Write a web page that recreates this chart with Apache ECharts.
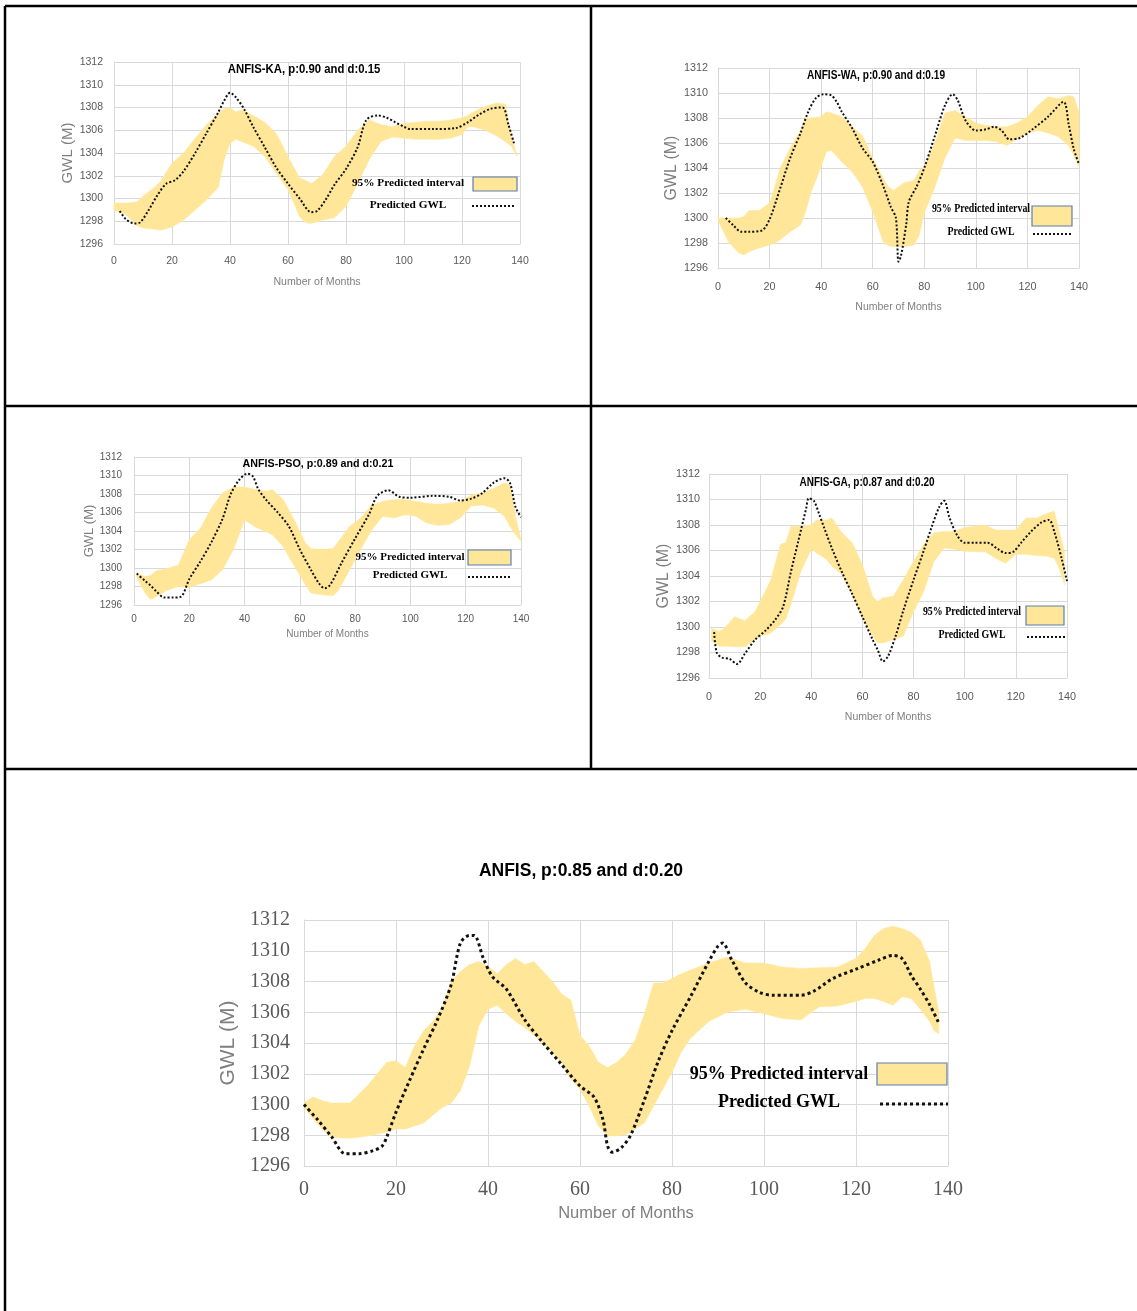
<!DOCTYPE html>
<html>
<head>
<meta charset="utf-8">
<script src="https://cdn.jsdelivr.net/npm/echarts@6/dist/echarts.min.js"></script>
<style>
  html, body { margin: 0; padding: 0; background: #fff; }
  #chart { width: 1137px; height: 1311px; }
</style>
</head>
<body>
<div id="chart"></div>
<script>
// GWL 95% prediction interval panels — ANFIS-KA / WA / PSO / GA / ANFIS

const X_TICKS = [0, 20, 40, 60, 80, 100, 120, 140];
const Y_TICKS = [1296, 1298, 1300, 1302, 1304, 1306, 1308, 1310, 1312];

// ANFIS-KA
const KA_MONTHS = [0, 4, 8, 10, 14, 16, 20, 24, 28, 32, 36, 38, 40, 42, 44, 48, 52, 56, 60, 64, 66, 68, 72, 76, 80, 84, 88, 92, 96, 100, 104, 108, 112, 116, 120, 122, 124, 128, 132, 135, 137, 139];
const KA_LOWER = [1299.0, 1298.6, 1297.6, 1297.4, 1297.3, 1297.2, 1297.5, 1298.1, 1299.0, 1299.9, 1301.0, 1303.4, 1304.85, 1305.2, 1305.0, 1304.6, 1303.7, 1302.2, 1300.8, 1298.4, 1297.9, 1297.8, 1298.1, 1298.3, 1299.3, 1301.3, 1303.4, 1305.0, 1305.4, 1305.3, 1305.2, 1305.2, 1305.2, 1305.3, 1305.6, 1306.3, 1306.3, 1306.0, 1305.5, 1305.0, 1304.6, 1303.7];
const KA_UPPER = [1299.6, 1299.6, 1299.7, 1300.2, 1301.0, 1301.5, 1303.1, 1304.0, 1305.3, 1306.5, 1307.5, 1307.9, 1308.0, 1307.6, 1307.8, 1307.3, 1306.7, 1305.7, 1303.7, 1301.8, 1301.6, 1301.3, 1302.1, 1303.7, 1304.6, 1306.0, 1306.9, 1306.5, 1306.3, 1306.6, 1306.7, 1306.8, 1306.8, 1306.9, 1307.1, 1307.3, 1307.6, 1308.1, 1308.4, 1308.3, 1305.4, 1303.8];
const KA_LINE_X = [2, 4, 7, 9, 12, 15, 18, 21, 24, 28, 32, 36, 38, 40, 42, 45, 48, 52, 56, 60, 64, 68, 70, 73, 76, 80, 84, 87, 91, 94, 97, 100, 102, 110, 118, 122, 126, 130, 134, 136, 138];
const KA_LINE_Y = [1298.9, 1298.2, 1297.8, 1297.9, 1299.0, 1300.3, 1301.3, 1301.6, 1302.4, 1304.0, 1305.8, 1307.6, 1308.6, 1309.3, 1308.9, 1307.8, 1306.3, 1304.5, 1302.7, 1301.3, 1300.0, 1298.8, 1298.9, 1299.9, 1301.2, 1302.6, 1304.5, 1306.9, 1307.3, 1307.1, 1306.7, 1306.3, 1306.1, 1306.1, 1306.2, 1306.7, 1307.4, 1307.9, 1308.0, 1306.5, 1304.8];

// ANFIS-WA
const WA_MONTHS = [0, 4, 8, 10, 12, 16, 20, 22, 24, 28, 32, 34, 36, 40, 42, 44, 48, 52, 56, 60, 64, 66, 68, 70, 72, 76, 78, 80, 84, 88, 92, 96, 100, 104, 108, 112, 116, 120, 124, 128, 132, 136, 138, 140];
const WA_LOWER = [1299.8, 1298.1, 1297.2, 1297.05, 1297.3, 1297.6, 1297.85, 1298.0, 1298.25, 1298.9, 1299.45, 1300.5, 1302.0, 1304.1, 1305.3, 1305.4, 1304.5, 1303.7, 1302.5, 1300.5, 1298.1, 1297.8, 1297.7, 1297.7, 1297.7, 1297.85, 1298.6, 1300.4, 1302.4, 1304.8, 1306.4, 1306.2, 1306.2, 1306.2, 1306.1, 1305.8, 1306.3, 1306.8, 1307.0, 1306.8, 1306.5, 1305.8, 1305.0, 1304.1];
const WA_UPPER = [1300.0, 1300.0, 1300.0, 1300.1, 1300.6, 1300.6, 1301.2, 1302.5, 1303.95, 1305.6, 1307.0, 1308.0, 1308.0, 1308.1, 1308.5, 1308.4, 1308.1, 1307.3, 1306.6, 1304.8, 1303.2, 1302.5, 1302.2, 1302.5, 1302.8, 1303.0, 1303.8, 1304.1, 1306.0, 1308.4, 1308.6, 1308.1, 1307.6, 1307.4, 1307.3, 1307.3, 1307.6, 1308.1, 1309.0, 1309.7, 1309.55, 1309.8, 1309.7, 1308.5];
const WA_LINE_X = [3, 6, 9, 12, 17, 20, 24, 28, 32, 35, 38, 41, 44, 46, 48, 52, 56, 60, 64, 67, 69, 70, 71, 73, 74, 77, 80, 84, 88, 91, 93, 96, 100, 104, 107, 110, 113, 117, 122, 128, 134, 136, 138, 140];
const WA_LINE_Y = [1300.0, 1299.4, 1298.9, 1298.9, 1299.0, 1299.9, 1302.3, 1304.8, 1306.8, 1308.5, 1309.6, 1309.9, 1309.8, 1309.3, 1308.5, 1307.2, 1305.6, 1304.5, 1302.6, 1300.9, 1300.0, 1296.5, 1297.0, 1299.5, 1301.3, 1302.5, 1304.0, 1306.5, 1309.0, 1309.9, 1309.4, 1307.8, 1307.0, 1307.1, 1307.3, 1307.0, 1306.3, 1306.4, 1307.1, 1308.1, 1309.3, 1307.5, 1305.5, 1304.3];

// ANFIS-PSO
const PSO_MONTHS = [1, 4, 6, 8, 12, 16, 20, 24, 28, 32, 36, 40, 44, 48, 50, 54, 58, 62, 64, 68, 72, 74, 78, 82, 86, 90, 94, 98, 102, 106, 110, 114, 118, 122, 126, 130, 134, 136, 138, 140];
const PSO_LOWER = [1299.0, 1297.3, 1296.6, 1296.9, 1297.6, 1298.0, 1297.9, 1298.3, 1298.7, 1299.8, 1302.0, 1305.2, 1304.4, 1303.9, 1303.6, 1302.3, 1300.2, 1298.2, 1297.3, 1297.1, 1297.0, 1297.6, 1299.8, 1302.0, 1304.1, 1305.6, 1305.4, 1305.75, 1305.6, 1304.85, 1304.6, 1304.7, 1305.4, 1306.7, 1306.8, 1306.5, 1305.6, 1304.5, 1303.6, 1302.9];
const PSO_UPPER = [1299.4, 1299.1, 1299.2, 1299.7, 1299.95, 1300.3, 1303.05, 1304.3, 1306.5, 1308.1, 1308.75, 1308.75, 1308.5, 1308.3, 1308.5, 1307.4, 1305.2, 1302.7, 1302.1, 1302.0, 1302.1, 1302.9, 1304.5, 1305.4, 1306.8, 1307.2, 1307.4, 1307.4, 1307.2, 1307.0, 1306.9, 1307.0, 1307.2, 1307.9, 1308.1, 1308.6, 1309.2, 1309.0, 1305.6, 1303.05];
const PSO_LINE_X = [1, 4, 6, 8, 11, 14, 17, 20, 24, 28, 32, 35, 38, 41, 43, 45, 48, 52, 56, 60, 64, 67, 69, 71, 75, 80, 85, 88, 92, 96, 100, 108, 114, 118, 122, 126, 130, 134, 136, 138, 140];
const PSO_LINE_Y = [1299.4, 1298.6, 1298.1, 1297.5, 1296.8, 1296.8, 1296.9, 1298.8, 1300.7, 1302.8, 1305.3, 1308.0, 1309.5, 1310.2, 1309.9, 1308.5, 1307.3, 1306.0, 1304.5, 1302.0, 1299.8, 1298.3, 1297.8, 1298.2, 1300.5, 1303.2, 1305.8, 1307.8, 1308.4, 1307.7, 1307.6, 1307.8, 1307.7, 1307.3, 1307.5, 1308.1, 1309.2, 1309.7, 1309.2, 1306.6, 1305.5];

// ANFIS-GA
const GA_MONTHS = [1, 4, 6, 10, 14, 18, 20, 24, 28, 30, 32, 36, 40, 42, 46, 48, 52, 56, 60, 64, 66, 68, 72, 76, 80, 84, 88, 92, 96, 100, 104, 108, 112, 116, 120, 124, 128, 132, 135, 137, 139];
const GA_LOWER = [1298.9, 1298.5, 1298.5, 1298.45, 1298.45, 1299.0, 1299.3, 1299.5, 1300.2, 1300.6, 1301.75, 1304.4, 1306.1, 1305.8, 1305.3, 1304.8, 1304.1, 1302.5, 1300.7, 1299.3, 1298.75, 1298.75, 1299.0, 1299.3, 1301.2, 1302.8, 1305.15, 1306.2, 1306.1, 1305.95, 1305.9, 1305.9, 1305.4, 1305.0, 1305.7, 1305.7, 1305.6, 1305.55, 1305.4, 1304.6, 1303.3];
const GA_UPPER = [1299.9, 1299.65, 1299.9, 1300.8, 1300.5, 1301.2, 1302.0, 1303.6, 1306.5, 1306.6, 1307.9, 1307.9, 1308.0, 1308.4, 1308.4, 1308.55, 1307.4, 1306.6, 1304.9, 1302.4, 1302.0, 1302.3, 1302.4, 1303.7, 1305.15, 1306.5, 1307.4, 1307.5, 1307.5, 1307.8, 1307.9, 1308.0, 1307.6, 1307.6, 1307.6, 1308.55, 1308.55, 1308.9, 1309.1, 1307.5, 1305.9];
const GA_LINE_X = [2, 3, 5, 8, 11, 14, 18, 22, 26, 29, 32, 35, 38, 39, 41, 43, 45, 48, 52, 56, 60, 64, 66, 68, 70, 73, 76, 80, 84, 87, 90, 92, 94, 97, 100, 104, 109, 113, 116, 119, 122, 126, 130, 133, 135, 138, 140];
const GA_LINE_Y = [1299.6, 1298.0, 1297.6, 1297.5, 1297.1, 1297.9, 1299.0, 1299.7, 1300.6, 1301.6, 1304.3, 1306.8, 1309.3, 1310.1, 1309.9, 1308.9, 1307.8, 1306.2, 1304.3, 1302.6, 1300.8, 1299.0, 1298.2, 1297.3, 1297.7, 1299.3, 1301.3, 1303.7, 1306.0, 1307.8, 1309.4, 1309.9, 1308.6, 1307.2, 1306.6, 1306.6, 1306.6, 1306.1, 1305.8, 1305.9, 1306.6, 1307.5, 1308.2, 1308.4, 1307.5, 1305.3, 1303.6];

// ANFIS
const AN_MONTHS = [0, 2, 4, 6, 10, 14, 18, 20, 22, 24, 26, 28, 30, 32, 34, 36, 38, 40, 42, 44, 46, 48, 50, 54, 56, 58, 60, 62, 64, 66, 68, 70, 72, 74, 76, 78, 80, 82, 84, 88, 92, 96, 100, 104, 108, 112, 116, 120, 122, 124, 126, 128, 130, 132, 134, 136, 137, 138];
const AN_LOWER = [1299.8, 1299.05, 1298.4, 1297.85, 1297.8, 1297.95, 1298.2, 1298.4, 1298.4, 1298.6, 1298.8, 1299.3, 1299.8, 1300.1, 1300.9, 1302.5, 1305.1, 1306.2, 1306.45, 1305.9, 1305.4, 1305.0, 1304.5, 1303.4, 1302.75, 1301.65, 1301.0, 1299.9, 1298.6, 1297.95, 1297.95, 1298.05, 1298.4, 1298.8, 1299.9, 1301.0, 1302.1, 1303.4, 1304.3, 1305.4, 1306.0, 1306.2, 1305.9, 1305.6, 1305.5, 1306.35, 1306.4, 1306.7, 1306.9, 1306.9, 1306.7, 1306.45, 1307.0, 1306.9, 1306.2, 1305.4, 1304.8, 1304.6];
const AN_UPPER = [1300.1, 1300.5, 1300.25, 1300.1, 1300.1, 1301.3, 1302.75, 1302.85, 1302.4, 1303.8, 1304.8, 1305.4, 1306.3, 1308.0, 1308.65, 1309.1, 1309.3, 1309.0, 1308.5, 1309.1, 1309.5, 1309.1, 1309.3, 1308.0, 1307.2, 1306.8, 1304.5, 1303.8, 1302.75, 1302.4, 1302.75, 1303.3, 1304.2, 1305.9, 1307.9, 1307.9, 1308.2, 1308.5, 1308.75, 1309.2, 1309.6, 1309.2, 1309.2, 1308.95, 1308.85, 1308.9, 1308.95, 1309.5, 1310.15, 1311.0, 1311.45, 1311.6, 1311.45, 1311.2, 1310.7, 1309.3, 1307.6, 1306.05];
const AN_LINE_X = [0, 3, 6, 9, 12, 15, 17, 18, 20, 23, 26, 29, 32, 34, 36, 37, 39, 41, 44, 48, 52, 56, 60, 63, 65, 66, 67, 69, 71, 74, 77, 80, 84, 88, 90, 91, 93, 96, 99, 102, 108, 111, 115, 120, 125, 128, 130, 132, 134, 136, 138];
const AN_LINE_Y = [1300.0, 1299.0, 1297.9, 1296.8, 1296.8, 1297.0, 1297.3, 1297.9, 1299.5, 1301.6, 1303.6, 1305.5, 1307.8, 1310.5, 1311.0, 1311.0, 1309.5, 1308.3, 1307.5, 1305.5, 1304.0, 1302.6, 1301.2, 1300.5, 1299.0, 1297.3, 1296.9, 1297.2, 1298.0, 1300.3, 1302.8, 1304.8, 1307.0, 1309.3, 1310.3, 1310.5, 1309.4, 1307.9, 1307.3, 1307.1, 1307.1, 1307.4, 1308.2, 1308.8, 1309.4, 1309.7, 1309.5, 1308.4, 1307.5, 1306.5, 1305.3];

const BAND_COLOR = "#ffe699";
const GRID_COLOR = "#d9d9d9";
const LABEL_COLOR = "#595959";
const NAME_COLOR = "#7f7f7f";
const SANS = "'Liberation Sans', Arial, sans-serif";
const SERIF = "'Liberation Serif', 'Times New Roman', serif";

// sx = horizontal squeeze used by the small (condensed-looking) panels
const PANELS = [
  {
    title: "ANFIS-KA, p:0.90 and d:0.15", months: KA_MONTHS, lower: KA_LOWER, upper: KA_UPPER, lx: KA_LINE_X, ly: KA_LINE_Y,
    grid: { left: 114, top: 62, width: 406, height: 182 },
    tick: { font: SANS, size: 10.5, xMargin: 12, yMargin: 11 },
    name: { xSize: 10.6, ySize: 15, xGap: 33, yGap: 39 },
    head: { x: 304, y: 69, size: 13.5, sx: 0.84 },
    leg: { cx: 408, y1: 183, y2: 205, size: 11.3, box: [473, 177, 44, 14], line: [472, 516, 206] },
    lw: 2,
  },
  {
    title: "ANFIS-WA, p:0.90 and d:0.19", months: WA_MONTHS, lower: WA_LOWER, upper: WA_UPPER, lx: WA_LINE_X, ly: WA_LINE_Y,
    grid: { left: 718, top: 68, width: 361, height: 200 },
    tick: { font: SANS, size: 10.8, xMargin: 14, yMargin: 10 },
    name: { xSize: 10.5, ySize: 16, xGap: 34, yGap: 34 },
    head: { x: 876, y: 75, size: 13, sx: 0.78 },
    leg: { cx: 981, y1: 209, y2: 232, size: 11.5, sx: 0.86, box: [1032, 206, 40, 20], line: [1033, 1073, 234] },
    lw: 2,
  },
  {
    title: "ANFIS-PSO, p:0.89 and d:0.21", months: PSO_MONTHS, lower: PSO_LOWER, upper: PSO_UPPER, lx: PSO_LINE_X, ly: PSO_LINE_Y,
    grid: { left: 134, top: 457, width: 387, height: 148 },
    tick: { font: SANS, size: 10, xMargin: 9, yMargin: 12 },
    name: { xSize: 10, ySize: 13, xGap: 24, yGap: 38 },
    head: { x: 318, y: 464, size: 10.7, sx: 1 },
    leg: { cx: 410, y1: 557, y2: 575, size: 11, box: [468, 550, 43, 15], line: [468, 512, 577] },
    lw: 2,
  },
  {
    title: "ANFIS-GA, p:0.87 and d:0.20", months: GA_MONTHS, lower: GA_LOWER, upper: GA_UPPER, lx: GA_LINE_X, ly: GA_LINE_Y,
    grid: { left: 709, top: 474, width: 358, height: 204 },
    tick: { font: SANS, size: 10.8, xMargin: 14, yMargin: 9 },
    name: { xSize: 10.5, ySize: 16, xGap: 34, yGap: 33 },
    head: { x: 867, y: 482, size: 13, sx: 0.77 },
    leg: { cx: 972, y1: 612, y2: 635, size: 11.5, sx: 0.86, box: [1026, 606, 38, 19], line: [1027, 1067, 637] },
    lw: 2,
  },
  {
    title: "ANFIS, p:0.85 and d:0.20", months: AN_MONTHS, lower: AN_LOWER, upper: AN_UPPER, lx: AN_LINE_X, ly: AN_LINE_Y,
    grid: { left: 304, top: 920, width: 644, height: 246 },
    tick: { font: SERIF, size: 20, xMargin: 14, yMargin: 14 },
    name: { xSize: 16.5, ySize: 21, xGap: 39, yGap: 61 },
    head: { x: 581, y: 871, size: 17.5, sx: 1 },
    leg: { cx: 779, y1: 1074, y2: 1102, size: 18, box: [877, 1063, 70, 22], line: [880, 948, 1104] },
    lw: 3,
  },
];

const chart = echarts.init(document.getElementById("chart"), null, { renderer: "canvas" });

const grids = [], xAxes = [], yAxes = [], series = [], graphics = [];

PANELS.forEach((p, i) => {
  grids.push(Object.assign({ containLabel: false }, p.grid));
  xAxes.push({
    type: "value", gridIndex: i, min: X_TICKS[0], max: X_TICKS[X_TICKS.length - 1], interval: X_TICKS[1] - X_TICKS[0],
    name: "Number of Months", nameLocation: "middle", nameGap: p.name.xGap,
    nameTextStyle: { color: NAME_COLOR, fontFamily: SANS, fontSize: p.name.xSize, verticalAlign: "top" },
    axisLine: { show: true, lineStyle: { color: GRID_COLOR, width: 1 } },
    axisTick: { show: false },
    axisLabel: { color: LABEL_COLOR, fontFamily: p.tick.font, fontSize: p.tick.size, margin: p.tick.xMargin, formatter: (v) => String(v) },
    splitLine: { show: true, lineStyle: { color: GRID_COLOR, width: 1 } },
  });
  yAxes.push({
    type: "value", gridIndex: i, min: Y_TICKS[0], max: Y_TICKS[Y_TICKS.length - 1], interval: Y_TICKS[1] - Y_TICKS[0],
    name: "GWL (M)", nameLocation: "middle", nameGap: p.name.yGap,
    nameTextStyle: { color: NAME_COLOR, fontFamily: SANS, fontSize: p.name.ySize },
    axisLine: { show: true, lineStyle: { color: GRID_COLOR, width: 1 } },
    axisTick: { show: false },
    axisLabel: { color: LABEL_COLOR, fontFamily: p.tick.font, fontSize: p.tick.size, margin: p.tick.yMargin, formatter: (v) => String(v) },
    splitLine: { show: true, lineStyle: { color: GRID_COLOR, width: 1 } },
  });

  const months = p.months, lower = p.lower, upper = p.upper;
  series.push({
    type: "custom",
    name: "95% Predicted interval",
    xAxisIndex: i, yAxisIndex: i,
    silent: true, z: 2,
    data: months.map((m, k) => [m, lower[k], upper[k]]),
    encode: { x: 0, y: [1, 2] },
    renderItem: (params, api) => {
      if (params.dataIndex !== 0) return null;
      const pts = [];
      for (let k = 0; k < months.length; k++) pts.push(api.coord([months[k], upper[k]]));
      for (let k = months.length - 1; k >= 0; k--) pts.push(api.coord([months[k], lower[k]]));
      return { type: "polygon", shape: { points: pts }, style: { fill: BAND_COLOR, stroke: BAND_COLOR, lineWidth: 0.5 } };
    },
  });
  series.push({
    type: "line",
    name: "Predicted GWL",
    xAxisIndex: i, yAxisIndex: i,
    z: 3, silent: true,
    symbol: "none",
    smooth: 0.3,
    data: p.lx.map((x, k) => [x, p.ly[k]]),
    lineStyle: { color: "#111", width: p.lw, type: "dotted" },
  });

  // panel heading
  graphics.push({
    type: "text", x: p.head.x, y: p.head.y, z: 10, scaleX: p.head.sx,
    style: { text: p.title, fontFamily: SANS, fontWeight: "bold", fontSize: p.head.size, fill: "#000", align: "center", verticalAlign: "middle" },
  });
  // legend block
  const L = p.leg;
  const lsx = L.sx || 1;
  graphics.push(
    { type: "text", x: L.cx, y: L.y1, z: 10, scaleX: lsx, style: { text: "95% Predicted interval", fontFamily: SERIF, fontWeight: "bold", fontSize: L.size, fill: "#000", align: "center", verticalAlign: "middle" } },
    { type: "text", x: L.cx, y: L.y2, z: 10, scaleX: lsx, style: { text: "Predicted GWL", fontFamily: SERIF, fontWeight: "bold", fontSize: L.size, fill: "#000", align: "center", verticalAlign: "middle" } },
    { type: "rect", z: 10, shape: { x: L.box[0], y: L.box[1], width: L.box[2], height: L.box[3] }, style: { fill: BAND_COLOR, stroke: "#5b7fae", lineWidth: 1.2 } },
    { type: "line", z: 10, shape: { x1: L.line[0], y1: L.line[2], x2: L.line[1], y2: L.line[2] }, style: { stroke: "#111", lineWidth: p.lw, lineDash: [p.lw, p.lw] } }
  );
});

// table borders
const BORDER = { stroke: "#000", lineWidth: 2.5 };
[
  [5, 6, 1137, 6],
  [5, 6, 5, 1311],
  [591, 6, 591, 769],
  [5, 406, 1137, 406],
  [5, 769, 1137, 769],
].forEach(([x1, y1, x2, y2]) => {
  graphics.push({ type: "line", z: 20, shape: { x1, y1, x2, y2 }, style: BORDER });
});

chart.setOption({
  backgroundColor: "#fff",
  animation: false,
  grid: grids,
  xAxis: xAxes,
  yAxis: yAxes,
  series: series,
  graphic: graphics,
});
</script>
</body>
</html>
